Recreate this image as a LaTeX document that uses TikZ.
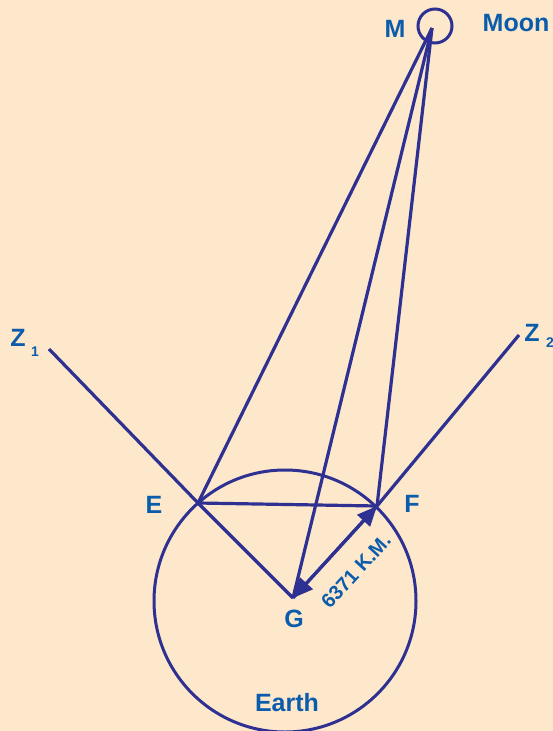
\documentclass[tikz,border=0pt]{standalone}
\usepackage{fontspec}
\setmainfont{Liberation Sans}
\usetikzlibrary{arrows.meta}
\definecolor{paper}{HTML}{FDE8CC}
\definecolor{ink}{HTML}{2E3192}
\definecolor{lbl}{HTML}{0B5CAB}
\tikzset{
  ray/.style={draw=ink,line width=3.2pt},
  tag/.style={text=lbl,font=\bfseries\fontsize{25}{25}\selectfont,inner sep=0pt},
  subtag/.style={text=lbl,font=\bfseries\fontsize{14}{14}\selectfont,inner sep=0pt},
  head/.style={-{Triangle[length=20pt,width=17pt]}}
}
\begin{document}
\begin{tikzpicture}[x=1pt,y=-1pt]
\fill[paper] (0,0) rectangle (553,731);
\useasboundingbox (0,0) rectangle (553,731);

% points
\coordinate (M) at (432,28);
\coordinate (E) at (198,503);
\coordinate (F) at (377,506);
\coordinate (G) at (293,598);
\coordinate (O) at (285,601);
\coordinate (Z1) at (49,349);
\coordinate (Z2) at (519,335);

% earth and moon
\draw[ink,line width=3pt] (O) circle (131);
\draw[ink,line width=3pt] (435,26) circle (17);

% lines
\draw[ray] (Z1) -- (E) -- (G);
\draw[ray] (Z2) -- (F);
\draw[ray] (E) -- (F);
\draw[ray] (M) -- (E);
\draw[ray] (M) -- (G);
\draw[ray] (M) -- (F);
\draw[ray,head] (F) -- (G);
\draw[ray,head] (G) -- (F);

% labels
\node[tag] (mlbl) at (395,29) {M};
\node[tag] (moon) at (516,23) {Moon};
\node[tag] (z1) at (18,338) {Z};
\node[subtag] (z1s) at (35,352) {1};
\node[tag] (z2) at (532,333) {Z};
\node[subtag] (z2s) at (550,343) {2};
\node[tag] (elbl) at (154,505) {E};
\node[tag] (flbl) at (412,504) {F};
\node[tag] (glbl) at (294,619) {G};
\node[tag] (earth) at (287,703) {Earth};
\node[text=lbl,font=\bfseries\fontsize{20}{20}\selectfont,inner sep=0pt,rotate=47.6] (rad) at (356,571) {6371 K.M.};
\end{tikzpicture}
\end{document}
